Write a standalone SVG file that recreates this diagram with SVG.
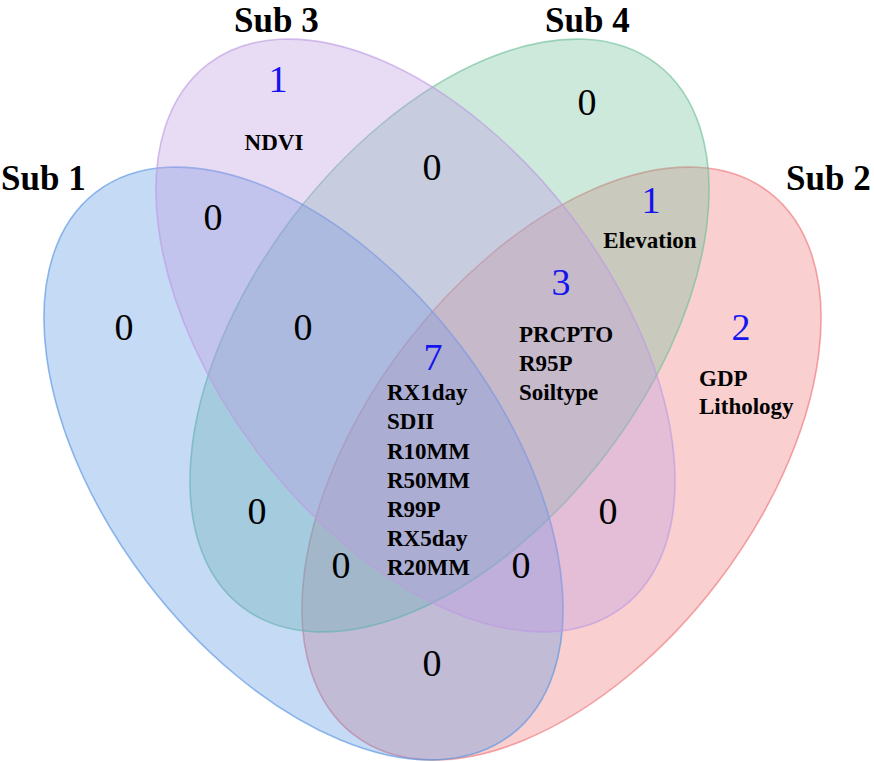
<svg xmlns="http://www.w3.org/2000/svg" width="874" height="762" viewBox="0 0 874 762">
<style>
.set{stroke-width:1.6;fill-opacity:0.35;stroke-opacity:0.65}
.lab{font-family:"Liberation Serif","Times New Roman",serif;font-weight:bold;font-size:35px;fill:#000}
.num{font-family:"Liberation Serif","Times New Roman",serif;font-size:38px;fill:#000;text-anchor:middle}
.cnt{font-family:"Liberation Serif","Times New Roman",serif;font-size:38px;fill:#1414f0;text-anchor:middle}
.item{font-family:"Liberation Serif","Times New Roman",serif;font-weight:bold;font-size:23px;fill:#000}
</style>
<rect width="874" height="762" fill="#ffffff"/>
<g id="sets">
<g id="sub2"><ellipse class="set" cx="561.5" cy="463.5" rx="341.6" ry="196.3" transform="rotate(-52.6 561.5 463.5)" fill="#ee7679" stroke="#ee7679"/></g>
<g id="sub4"><ellipse class="set" cx="449.5" cy="335.5" rx="341.6" ry="196.3" transform="rotate(-52.6 449.5 335.5)" fill="#70c09b" stroke="#70c09b"/></g>
<g id="sub1"><ellipse class="set" cx="303.5" cy="463.5" rx="341.6" ry="196.3" transform="rotate(52.6 303.5 463.5)" fill="#5995e2" stroke="#5995e2"/></g>
<g id="sub3"><ellipse class="set" cx="415.5" cy="335.5" rx="341.6" ry="196.3" transform="rotate(52.6 415.5 335.5)" fill="#bd9be2" stroke="#bd9be2"/></g>
</g>
<g id="labels">
<text class="lab" x="1" y="190">Sub 1</text>
<text class="lab" x="786" y="190">Sub 2</text>
<text class="lab" x="234" y="32">Sub 3</text>
<text class="lab" x="545" y="32">Sub 4</text>
</g>
<g id="counts">
<text class="cnt" x="278" y="92">1</text>
<text class="item" x="274" y="150" text-anchor="middle">NDVI</text>
<text class="num" x="213" y="230">0</text>
<text class="num" x="124" y="340">0</text>
<text class="num" x="303" y="340">0</text>
<text class="num" x="432" y="180">0</text>
<text class="num" x="587" y="115">0</text>
<text class="cnt" x="651" y="213">1</text>
<text class="item" x="650" y="248" text-anchor="middle">Elevation</text>
<text class="cnt" x="561" y="295">3</text>
<text class="item" x="519" y="342">PRCPTO</text>
<text class="item" x="519" y="371">R95P</text>
<text class="item" x="519" y="400">Soiltype</text>
<text class="cnt" x="741" y="340">2</text>
<text class="item" x="699" y="386">GDP</text>
<text class="item" x="699" y="414">Lithology</text>
<text class="cnt" x="433" y="370">7</text>
<text class="item" x="387" y="400">RX1day</text>
<text class="item" x="387" y="429">SDII</text>
<text class="item" x="387" y="459">R10MM</text>
<text class="item" x="387" y="488">R50MM</text>
<text class="item" x="387" y="517">R99P</text>
<text class="item" x="387" y="546">RX5day</text>
<text class="item" x="387" y="575">R20MM</text>
<text class="num" x="257" y="524">0</text>
<text class="num" x="341" y="578">0</text>
<text class="num" x="521" y="578">0</text>
<text class="num" x="608" y="524">0</text>
<text class="num" x="432" y="676">0</text>
</g>
</svg>
